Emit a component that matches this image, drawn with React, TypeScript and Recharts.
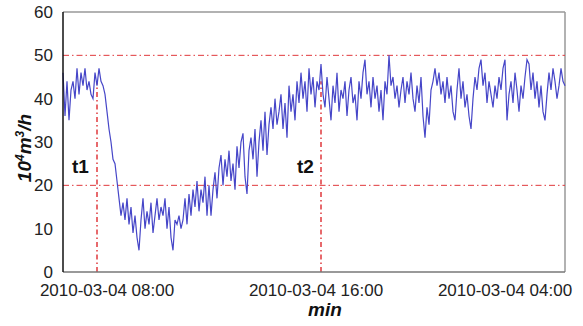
import { LineChart, Line, XAxis, YAxis, ReferenceLine } from 'recharts';

// flow readings, one every sample step (10^4 m3/h)
const flow = [
  46, 36, 44, 35, 42, 44, 40, 47, 41, 46, 43, 47, 42, 44, 41, 40, 46, 43, 47, 44,
  43, 41, 37, 33, 30, 26, 25, 21, 17, 13, 16, 12, 17, 11, 15, 9, 13, 8, 5, 12,
  17, 10, 14, 11, 16, 9, 13, 17, 12, 15, 13, 17, 10, 15, 8, 5, 12, 11, 13, 10,
  12, 17, 11, 18, 13, 19, 15, 21, 14, 19, 16, 22, 13, 20, 13, 19, 23, 17, 24, 27,
  20, 26, 22, 28, 21, 25, 19, 29, 24, 30, 32, 22, 18, 28, 31, 26, 33, 22, 30, 35,
  28, 37, 27, 34, 38, 33, 40, 34, 37, 41, 33, 39, 31, 43, 37, 41, 35, 44, 39, 46,
  40, 44, 37, 47, 41, 45, 38, 44, 42, 48, 41, 38, 45, 40, 35, 43, 39, 46, 37, 42,
  40, 44, 36, 42, 45, 39, 41, 35, 44, 40, 46, 49, 41, 44, 38, 45, 40, 43, 37, 42,
  35, 44, 41, 50, 43, 45, 40, 43, 38, 42, 45, 39, 44, 41, 46, 40, 37, 43, 39, 45,
  36, 31, 38, 34, 42, 44, 47, 43, 46, 41, 44, 39, 45, 40, 43, 37, 35, 42, 47, 40,
  44, 38, 41, 36, 33, 40, 45, 42, 47, 49, 43, 46, 39, 44, 41, 38, 43, 40, 45, 42,
  47, 49, 35, 41, 44, 39, 46, 42, 37, 43, 40, 45, 49, 48, 42, 46, 40, 44, 38, 43,
  37, 35, 41, 46, 42, 47, 44, 40, 43, 47, 44, 43,
];

const tickIdx = [22, 126.5, 221];
const tickLabels = ['2010-03-04 08:00', '2010-03-04 16:00', '2010-03-04 04:00'];
const yTicks = [0, 10, 20, 30, 40, 50, 60];
const markIdx = [17, 129];
const markNames = ['t1', 't2'];
const limits = [20, 50];

const data = flow.map((v, i) => ({ i, v }));
const font = 'Liberation Sans, Arial, sans-serif';
const red = '#e0383c';

export default function App() {
  const lastIdx = flow.length - 1;
  return (
    <div style={{ position: 'absolute', left: 0, top: 0, width: 583, height: 326, background: '#fff', fontFamily: font }}>
      <LineChart width={583} height={326} data={data} margin={{ top: 12, right: 18, bottom: 0, left: 0 }}>
        <XAxis
          dataKey="i"
          type="number"
          domain={[0, lastIdx]}
          ticks={tickIdx}
          tickFormatter={(v) => tickLabels[tickIdx.indexOf(v)]}
          height={54}
          tickLine={false}
          tickSize={0}
          tickMargin={12}
          axisLine={{ stroke: '#777', strokeWidth: 1.5 }}
          tick={{ fill: '#222', fontSize: 17, fontFamily: font }}
          interval={0}
        />
        <YAxis
          domain={[0, 60]}
          ticks={yTicks}
          width={63}
          tickLine={false}
          tickSize={0}
          tickMargin={10}
          axisLine={{ stroke: '#111', strokeWidth: 1.5 }}
          tick={{ fill: '#222', fontSize: 17, fontFamily: font }}
          interval={0}
        />
        <ReferenceLine y={60} stroke="#999" strokeWidth={1.5} />
        <ReferenceLine x={lastIdx} stroke="#999" strokeWidth={1.5} />
        {limits.map((l) => (
          <ReferenceLine key={l} y={l} stroke={red} strokeWidth={1} strokeDasharray="6 3 1.5 3" />
        ))}
        {markIdx.map((m) => (
          <ReferenceLine
            key={m}
            segment={[{ x: m, y: 0 }, { x: m, y: 44 }]}
            stroke={red}
            strokeWidth={1.5}
            strokeDasharray="5 3 1.5 3"
          />
        ))}
        <Line
          type="linear"
          dataKey="v"
          stroke="#4646c8"
          strokeWidth={1.2}
          dot={false}
          isAnimationActive={false}
        />
      </LineChart>
      {markNames.map((n, k) => (
        <div
          key={n}
          style={{ position: 'absolute', left: k === 0 ? 72 : 297, top: 156, fontSize: 19, fontWeight: 'bold', color: '#111', lineHeight: '22px' }}
        >
          {n}
        </div>
      ))}
      <div
        style={{ position: 'absolute', left: 280, top: 300, width: 90, textAlign: 'center', fontSize: 19, fontWeight: 'bold', fontStyle: 'italic', color: '#111', lineHeight: '19px' }}
      >
        min
      </div>
      <div
        style={{
          position: 'absolute', left: 20 - 60, top: 148 - 12, width: 120, height: 24, lineHeight: '24px',
          textAlign: 'center', transform: 'rotate(-90deg)', fontSize: 19, fontWeight: 'bold', fontStyle: 'italic', color: '#111',
        }}
      >
        10<sup style={{ fontSize: 12 }}>4</sup>m<sup style={{ fontSize: 12 }}>3</sup>/h
      </div>
    </div>
  );
}
